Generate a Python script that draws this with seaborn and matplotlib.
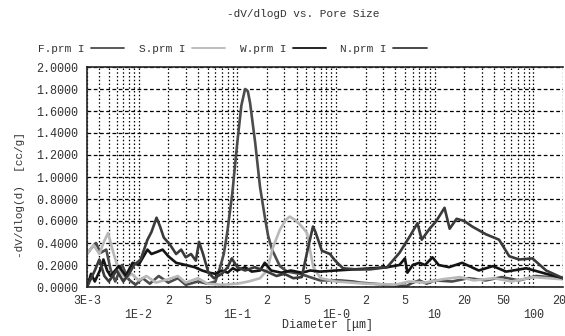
import matplotlib
matplotlib.use("Agg")
import matplotlib.pyplot as plt
import matplotlib.ticker as mticker
import seaborn as sns
import pandas as pd
import numpy as np

# pore diameter [um] and -dV/dlogD [cc/g]
f_d = [0.003, 0.0033, 0.0037, 0.0041, 0.0047, 0.0052, 0.0058, 0.0068, 0.0079, 0.0093,
       0.011, 0.013, 0.016, 0.02, 0.025, 0.03, 0.04, 0.05, 0.06, 0.067, 0.073, 0.079,
       0.089, 0.1, 0.11, 0.12, 0.128, 0.135, 0.152, 0.17, 0.19, 0.205, 0.225, 0.27,
       0.32, 0.43, 0.59, 0.69, 1.1, 1.5, 1.75, 3.3, 5.2, 6, 7, 8.3, 10, 15, 22, 33,
       48, 72, 107, 200]
f_v = [0.30, 0.35, 0.40, 0.31, 0.34, 0.16, 0.05, 0.20, 0.07, 0.02,
       0.08, 0.03, 0.10, 0.04, 0.08, 0.02, 0.05, 0.03, 0.05, 0.18, 0.30, 0.49,
       0.85, 1.31, 1.65, 1.80, 1.78, 1.67, 1.31, 0.91, 0.64, 0.47, 0.34, 0.19,
       0.14, 0.12, 0.08, 0.06, 0.06, 0.05, 0.04, 0.02, 0.01, 0.04, 0.06, 0.03, 0.06, 0.05, 0.08, 0.06,
       0.09, 0.06, 0.10, 0.08]

s_d = [0.003, 0.0035, 0.004, 0.0045, 0.0049, 0.0056, 0.0063, 0.0074, 0.0085, 0.01,
       0.012, 0.015, 0.02, 0.025, 0.03, 0.04, 0.05, 0.07, 0.1, 0.13, 0.17, 0.2, 0.23,
       0.27, 0.31, 0.34, 0.4, 0.46, 0.51, 0.55, 0.59, 0.7, 1, 2, 4, 5.5, 8, 12, 18, 25,
       40, 60, 100, 200]
s_v = [0.30, 0.38, 0.30, 0.42, 0.49, 0.30, 0.15, 0.08, 0.12, 0.06,
       0.10, 0.04, 0.07, 0.10, 0.04, 0.08, 0.03, 0.02, 0.03, 0.05, 0.08, 0.15, 0.36,
       0.52, 0.61, 0.64, 0.60, 0.54, 0.49, 0.32, 0.18, 0.08, 0.05, 0.03, 0.02, 0.05, 0.04, 0.07, 0.09, 0.06,
       0.08, 0.05, 0.09, 0.07]

w_d = [0.003, 0.0033, 0.0036, 0.0041, 0.0044, 0.0048, 0.0052, 0.0063, 0.0074, 0.0087,
       0.01, 0.0123, 0.0135, 0.0155, 0.0175, 0.02, 0.024, 0.03, 0.037, 0.044, 0.052,
       0.06, 0.07, 0.08, 0.09, 0.1, 0.12, 0.14, 0.17, 0.19, 0.22, 0.28, 0.35, 0.45,
       0.55, 0.69, 1.0, 1.5, 2.3, 3.3, 4.4, 5, 5.3, 6, 7, 8, 9.5, 11, 14, 19, 28, 39,
       53, 85, 135, 200]
w_v = [0.00, 0.12, 0.05, 0.16, 0.25, 0.15, 0.10, 0.19, 0.10, 0.22,
       0.20, 0.34, 0.30, 0.32, 0.34, 0.28, 0.22, 0.20, 0.18, 0.15, 0.13,
       0.12, 0.15, 0.13, 0.17, 0.15, 0.18, 0.14, 0.15, 0.22, 0.15, 0.13, 0.15, 0.13,
       0.15, 0.14, 0.15, 0.16, 0.17, 0.18, 0.20, 0.26, 0.13, 0.20, 0.22, 0.20, 0.27, 0.20, 0.18, 0.22, 0.15, 0.19,
       0.14, 0.17, 0.12, 0.08]

n_d = [0.003, 0.0036, 0.004, 0.0045, 0.005, 0.006, 0.007, 0.008, 0.009, 0.0105,
       0.0123, 0.0135, 0.0152, 0.0165, 0.018, 0.021, 0.024, 0.027, 0.03, 0.034, 0.038,
       0.041, 0.045, 0.051, 0.058, 0.07, 0.08, 0.088, 0.1, 0.12, 0.15, 0.2, 0.25, 0.3,
       0.37, 0.45, 0.52, 0.585, 0.62, 0.72, 0.87, 0.98, 1.18, 1.6, 2.2, 3.3, 4.4, 5.6,
       6.7, 7.4, 8.9, 10.4, 12.6, 14.2, 16.7, 20, 24, 33, 45, 57, 72, 98, 135, 200]
n_v = [0.00, 0.15, 0.25, 0.10, 0.05, 0.15, 0.05, 0.12, 0.20, 0.25,
       0.43, 0.50, 0.63, 0.55, 0.45, 0.38, 0.30, 0.34, 0.27, 0.30, 0.24,
       0.41, 0.30, 0.13, 0.08, 0.12, 0.18, 0.26, 0.18, 0.15, 0.18, 0.14, 0.10, 0.12,
       0.08, 0.09, 0.35, 0.55, 0.50, 0.33, 0.30, 0.24, 0.17, 0.16, 0.16, 0.18, 0.31, 0.46,
       0.58, 0.43, 0.53, 0.60, 0.72, 0.53, 0.62, 0.60, 0.55, 0.48, 0.43, 0.28, 0.25, 0.26, 0.15, 0.08]

names = ["F.prm I", "S.prm I", "W.prm I", "N.prm I"]
colors = ["#4c4c4c", "#b8b8b8", "#141414", "#3a3a3a"]

df = pd.concat([
    pd.DataFrame({"d": f_d, "v": f_v, "s": names[0]}),
    pd.DataFrame({"d": s_d, "v": s_v, "s": names[1]}),
    pd.DataFrame({"d": w_d, "v": w_v, "s": names[2]}),
    pd.DataFrame({"d": n_d, "v": n_v, "s": names[3]}),
])

sns.set_style("white")
plt.rcParams["font.family"] = ["Liberation Mono", "DejaVu Sans Mono"]
txt = "#333333"

fig = plt.figure(figsize=(5.65, 3.36), dpi=100)
ax = fig.add_axes([87 / 565, 1 - 287 / 336, 476 / 565, 220 / 336])

sns.lineplot(data=df, x="d", y="v", hue="s", palette=dict(zip(names, colors)),
             estimator=None, sort=True, linewidth=1.9, ax=ax, legend=False)

ax.set_xscale("log")
ax.set_xlim(0.003, 200)
ax.set_ylim(0, 2.0)

ax.set_yticks(np.arange(0, 2.01, 0.2))
ax.yaxis.set_major_formatter(mticker.FormatStrFormatter("%.4f"))
ax.tick_params(axis="y", length=0, pad=6, labelsize=8.5, labelcolor=txt)

major_lab = {0.01: "1E-2", 0.1: "1E-1", 1: "1E-0", 10: "10", 100: "100"}
ax.xaxis.set_major_locator(mticker.FixedLocator(list(major_lab.keys())))
ax.xaxis.set_major_formatter(mticker.FixedFormatter(list(major_lab.values())))
ax.xaxis.set_minor_locator(mticker.LogLocator(base=10, subs=np.arange(2, 10), numticks=20))


def minor_fmt(x, pos):
    if abs(x - 0.003) < 1e-6:
        return "3E-3"
    if x < 0.01:
        return ""
    e = np.floor(np.log10(x) + 1e-9)
    m = round(x / 10 ** e)
    if m in (2, 5):
        if x < 1:
            return str(m)
        return "%g" % x
    return ""


ax.xaxis.set_minor_formatter(mticker.FuncFormatter(minor_fmt))
ax.tick_params(axis="x", which="major", length=9, width=0.7, color="#555555",
               pad=6.5, labelsize=8.5, labelcolor=txt)
ax.tick_params(axis="x", which="minor", length=0, pad=6, labelsize=8.5, labelcolor=txt)

ax.grid(True, axis="x", which="both", linestyle=(0, (1.2, 1.8)), color="black", linewidth=0.9)
ax.grid(True, axis="y", which="major", linestyle=(0, (3, 2)), color="black", linewidth=0.9)

for side in ["top", "left", "bottom", "right"]:
    ax.spines[side].set_color("#222222")
    ax.spines[side].set_linewidth(1.2)
ax.spines["right"].set_visible(False)

ax.set_xlabel("")
ax.set_ylabel("")
fig.text(327 / 565, 1 - 325 / 336, "Diameter [\u03bcm]", ha="center", va="center",
         fontsize=8.5, color=txt)
fig.text(20 / 565, 1 - 195 / 336, "-dV/dlog(d)  [cc/g]", rotation=90, ha="center",
         va="center", fontsize=8, color=txt)
fig.text(303 / 565, 1 - 14 / 336, "-dV/dlogD vs. Pore Size", ha="center", va="center",
         fontsize=8, color=txt)

handles = [plt.Line2D([], [], color=c, linewidth=1.3) for c in colors]
ax.legend(handles, names, ncol=4, markerfirst=False, frameon=False,
          loc="center left", bbox_to_anchor=(28 / 565, 1 - 49 / 336),
          bbox_transform=fig.transFigure, fontsize=8, handlelength=3.0,
          handletextpad=0.6, columnspacing=1.3, labelcolor=txt)

fig.savefig("out.png", dpi=100)
